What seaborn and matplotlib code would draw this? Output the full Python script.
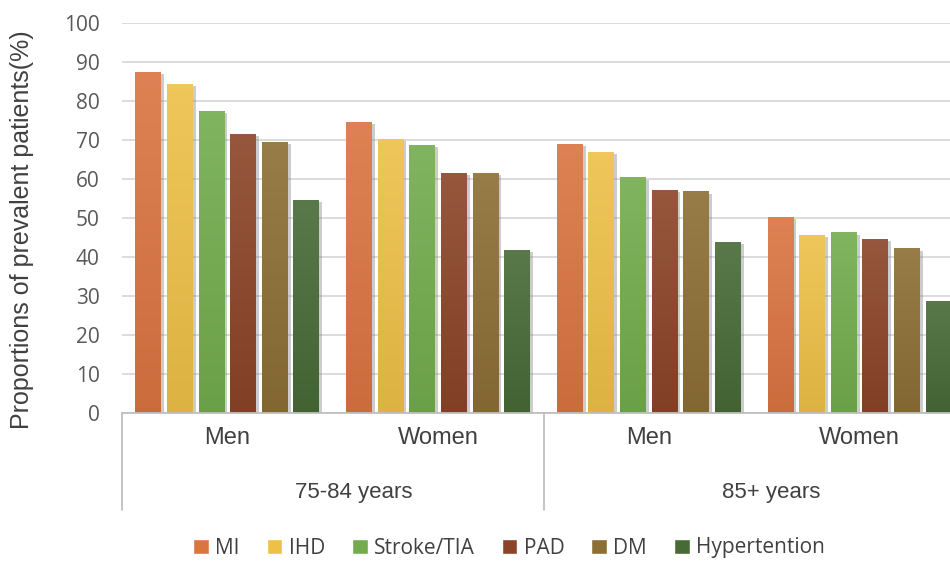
import matplotlib
matplotlib.use("Agg")
import matplotlib.pyplot as plt
import matplotlib.patheffects as pe
from matplotlib.colors import to_rgb
from matplotlib.transforms import blended_transform_factory
import numpy as np
import pandas as pd
import seaborn as sns

# Prevalence (%) by age band and sex for each condition
age_groups = ["75-84 years", "85+ years"]
sexes = ["Men", "Women"]
conditions = ["MI", "IHD", "Stroke/TIA", "PAD", "DM", "Hypertention"]

men_75_84 = [87.5, 84.4, 77.4, 71.6, 69.6, 54.6]
women_75_84 = [74.7, 70.3, 68.8, 61.6, 61.6, 41.9]
men_85 = [69.1, 67.0, 60.4, 57.1, 56.8, 43.9]
women_85 = [50.2, 45.6, 46.3, 44.7, 42.2, 28.8]

colors = ["#DA7441", "#EDC047", "#72AC4D", "#8B4428", "#8D6E34", "#476A36"]

series = {
    ("75-84 years", "Men"): men_75_84,
    ("75-84 years", "Women"): women_75_84,
    ("85+ years", "Men"): men_85,
    ("85+ years", "Women"): women_85,
}

rows = []
for (age, sex), vals in series.items():
    for cond, v in zip(conditions, vals):
        rows.append({"group": f"{age} | {sex}", "age": age, "sex": sex,
                     "condition": cond, "value": v})
df = pd.DataFrame(rows)
order = [f"{a} | {s}" for a in age_groups for s in sexes]

sns.set_theme(style="white")
plt.rcParams["font.family"] = ["Liberation Sans", "DejaVu Sans"]

fig = plt.figure(figsize=(9.5, 5.61), dpi=100)
ax = fig.add_axes([122 / 950, 1 - 413 / 561, (965 - 122) / 950, 390 / 561])

sns.barplot(data=df, x="group", y="value", hue="condition", order=order,
            hue_order=conditions, palette=colors, width=0.9, gap=0.18,
            saturation=1, errorbar=None, ax=ax, legend=True)

handles, labels = ax.get_legend_handles_labels()
ax.get_legend().remove()

ax.set_ylim(0, 100)
ax.set_xlim(-0.5, 3.5)

# Soft drop shadow plus a gentle vertical light-to-dark gradient on each bar
shadow = [pe.SimplePatchShadow(offset=(2, -1.5), shadow_rgbFace="#808080", alpha=0.4),
          pe.Normal()]
for p in list(ax.patches):
    if p.get_height() <= 0:
        continue
    p.set_path_effects(shadow)
    p.set_linewidth(0)
    base = np.array(to_rgb(p.get_facecolor()))
    top = base + (1 - base) * 0.10
    bottom = base * 0.93
    t = np.linspace(0, 1, 64)[:, None]
    grad = top * (1 - t) + bottom * t
    x0, y0 = p.get_x(), p.get_y()
    im = ax.imshow(grad[:, None, :], extent=(x0, x0 + p.get_width(), y0, y0 + p.get_height()),
                   aspect="auto", origin="upper", zorder=p.get_zorder() + 0.01,
                   interpolation="bilinear")
    im.set_clip_path(p)

ax.set_ylim(0, 100)
ax.set_xlim(-0.5, 3.5)
ax.set_yticks(range(0, 101, 10))
ax.yaxis.grid(True, color="#D9D9D9", linewidth=1.3)
ax.set_axisbelow(True)
for side in ["left", "right", "top"]:
    ax.spines[side].set_visible(False)
ax.spines["bottom"].set_color("#BFBFBF")
ax.spines["bottom"].set_linewidth(1.3)

ax.tick_params(axis="y", length=0, pad=16, labelsize=15, labelcolor="#595959")
for t in ax.get_yticklabels():
    t.set_fontfamily(["Open Sans", "DejaVu Sans"])

ax.set_xticks(range(4))
ax.set_xticklabels([s for a in age_groups for s in sexes])
ax.tick_params(axis="x", length=0, pad=10, labelsize=17, labelcolor="#404040")
ax.set_xlabel("")

ax.set_ylabel("Proportions of prevalent patients(%)", fontsize=18,
              color="#404040")
ax.yaxis.set_label_coords(-0.104, 0.47)

# Two-level category axis: separators and age-band labels
trans = blended_transform_factory(ax.transData, ax.transAxes)
for xs in [-0.5, 1.5, 3.5]:
    ax.plot([xs, xs], [0, -0.249], transform=trans, color="#BFBFBF",
            linewidth=1.3, clip_on=False)
for xpos, label in zip([0.6, 2.58], age_groups):
    ax.text(xpos, -0.205, label, transform=trans, ha="center", va="center",
            fontsize=16, color="#404040")

fig.legend(handles, labels, loc="center", bbox_to_anchor=(509 / 950, 1 - 548 / 561),
           ncol=6, frameon=False, handlelength=0.75, handleheight=0.75,
           handletextpad=0.3, columnspacing=1.3,
           prop={"family": ["Open Sans", "DejaVu Sans"], "size": 15},
           labelcolor="#404040")

fig.savefig("out.png", dpi=100)
